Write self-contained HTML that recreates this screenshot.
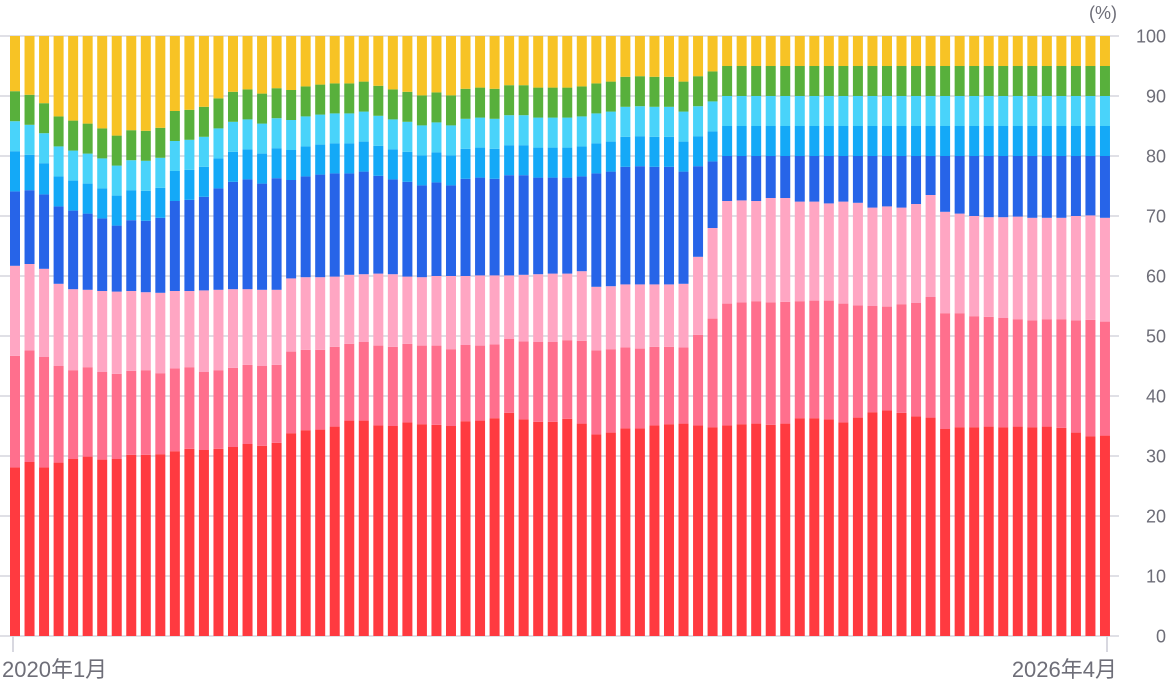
<!DOCTYPE html>
<html><head><meta charset="utf-8"><style>
html,body{margin:0;padding:0;background:#fff;}
svg{display:block;font-family:"Liberation Sans","Noto Sans CJK JP",sans-serif;}
</style></head><body>
<svg id="c" width="1168" height="680" xmlns="http://www.w3.org/2000/svg"></svg>
<script>
const c1=[28.1,29,28.1,28.9,29.5,29.9,29.4,29.5,30.2,30.2,30.3,30.8,31.2,31,31.2,31.5,32,31.7,32.2,33.8,
34.3,34.4,34.9,35.9,35.9,35.1,35,35.6,35.3,35.2,35,35.8,35.9,36.3,37.2,36.1,35.7,35.7,
36.2,35.4,33.6,33.9,34.6,34.6,35.1,35.3,35.4,35.1,34.8,35.1,35.3,35.4,35.2,35.4,36.3,36.3,36.1,
35.6,36.4,37.3,37.6,37.2,36.6,36.4,34.5,34.8,34.8,34.9,34.8,34.9,34.8,34.9,34.7,33.9,33.3,33.4];
const c2=[46.7,47.6,46.5,45,44.3,44.8,44,43.7,44.2,44.3,43.8,44.6,44.8,44,44.3,44.7,45.2,45,45.2,47.4,
47.7,47.7,48.2,48.7,49,48.4,48.2,48.7,48.4,48.4,47.8,48.5,48.4,48.6,49.5,49.1,49,49,
49.3,49.2,47.6,47.8,48.1,47.9,48.2,48.2,48.1,50.2,52.9,55.4,55.6,55.8,55.6,55.7,55.8,55.9,55.9,
55.4,55.1,55,54.9,55.3,55.5,56.5,53.8,53.8,53.3,53.2,53,52.8,52.6,52.8,52.8,52.6,52.7,52.4];
const c3=[61.7,62,61.2,58.7,57.8,57.7,57.5,57.4,57.5,57.3,57.2,57.5,57.5,57.6,57.7,57.8,57.8,57.7,57.7,59.6,
59.8,59.8,59.9,60.2,60.3,60.4,60.3,59.9,59.8,60,60,60,60.1,60.1,60.1,60.2,60.3,60.4,
60.4,60.8,58.2,58.3,58.6,58.6,58.6,58.6,58.7,63.2,68,72.5,72.6,72.5,73,73,72.4,72.4,72.1,
72.4,72.2,71.4,71.6,71.4,72,73.5,70.7,70.4,70,69.8,69.8,69.9,69.7,69.7,69.7,70,70.1,69.7];
const c4=[74.1,74.3,73.6,71.6,70.9,70.4,69.6,68.4,69.3,69.2,69.7,72.5,72.7,73.2,74.6,75.7,76.1,75.4,76.3,76,
76.6,76.9,77.1,77.1,77.4,76.7,76.1,75.7,75.1,75.6,75.1,76.2,76.4,76.2,76.8,76.8,76.4,76.4,
76.4,76.6,77.1,77.4,78.2,78.3,78.2,78.2,77.4,78.3,79.1,80,80,80,80,80,80,80,80];
while(c4.length<76)c4.push(80);
const cols=["#FF3A40","#FF6F8D","#FFA6C3","#2764E8","#14A9F7","#49D3FA","#58B03C","#F7C325"];
const svg=document.getElementById('c');let h='';
const Y=v=>636-v*6;
for(let k=0;k<=10;k++){const y=36+60*k;h+=`<rect x="0" y="${y-1}" width="1119" height="2" fill="#e0e0e6"/>`;
h+=`<text x="1166" y="${y+6.5}" text-anchor="end" font-size="18" fill="#6e6e78">${100-10*k}</text>`;}
h+=`<text x="1117" y="19" text-anchor="end" font-size="18" fill="#6e6e78">(%)</text>`;
for(let i=0;i<76;i++){
 const x=10+i*14.533;
 let c5=i<3?[80.8,80.2,78.8][i]:c4[i]+5;
 const b=[0,c1[i],c2[i],c3[i],c4[i],c5,c5+5,c5+10,100];
 for(let s=0;s<8;s++){const y1=Y(b[s+1]),y0=Y(b[s]);
  h+=`<rect x="${x.toFixed(2)}" y="${y1.toFixed(2)}" width="10" height="${(y0-y1).toFixed(2)}" fill="${cols[s]}"/>`;}
}
h+=`<rect x="12" y="636" width="2" height="16" fill="#d8d8e0"/><rect x="1106" y="636" width="2" height="16" fill="#d8d8e0"/>`;
h+=`<text x="2" y="677" font-size="22" fill="#6e6e78">2020年1月</text>`;
h+=`<text x="1117" y="677" text-anchor="end" font-size="22" fill="#6e6e78">2026年4月</text>`;
svg.innerHTML=h;
</script>
</body></html>
